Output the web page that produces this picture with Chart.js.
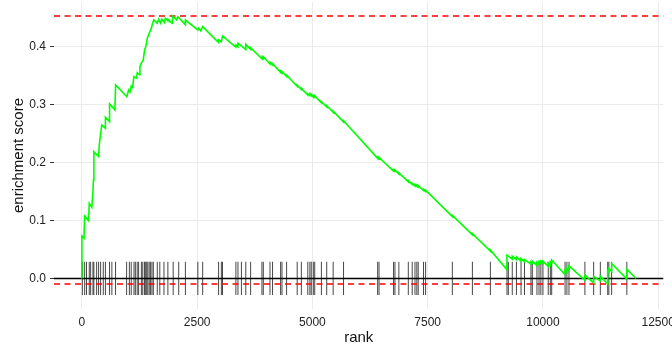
<!DOCTYPE html>
<html>
<head>
<meta charset="utf-8">
<script src="https://cdn.jsdelivr.net/npm/chart.js@4.4.1/dist/chart.umd.min.js"></script>
<style>
  html, body { margin: 0; padding: 0; background: #fff; }
  canvas { display: block; }
</style>
</head>
<body>
<canvas id="gsea" width="672" height="355"></canvas>
<script>
// running enrichment score, vertices (rank, score)
var esRank = [0, 0, 45, 60, 145, 160, 215, 240, 250, 260, 362, 377, 406, 430, 510, 510, 600, 600, 716, 731,
  975, 1013, 1042, 1071, 1100, 1128, 1186, 1201, 1245, 1258, 1288, 1331, 1360, 1388, 1418, 1447, 1505, 1534, 1562,
  1635, 1664, 1707, 1735, 1794, 1809, 1865, 1865, 1960, 1965, 2054, 2082, 2245, 2245, 2515, 2530, 2575, 2620,
  2965, 2965, 3025, 3050, 3340, 3345, 3385, 3385, 3555, 3555,
  3660, 3660, 3905, 3905, 3935, 3935, 4080, 4080, 4135, 4135, 4310, 4310, 4340, 4340, 4440, 4440,
  4670, 4670, 4760, 4760, 4900, 4900, 4945, 4945, 4975, 4975, 5020, 5020, 5050, 5050, 5195, 5195,
  5310, 5310, 5450, 5450, 5675, 5675, 6415, 6415, 6445, 6445, 6760, 6760, 6790, 6790, 6875, 6875,
  7080, 7080, 7165, 7165, 7225, 7225, 7265, 7265, 7295, 7295, 7410, 7410, 7455, 7455,
  8035, 8035, 8470, 8470, 8860, 8860, 9220, 9220, 9335, 9335, 9425, 9425, 9525, 9525, 9600, 9600,
  9740, 9740, 9770, 9770, 9870, 9870, 9915, 9915, 9955, 9955, 10000, 10000, 10115, 10115, 10160, 10160,
  10190, 10190, 10480, 10480, 10520, 10520, 10565, 10565, 10910, 10910, 11100, 11100, 11245, 11245,
  11405, 11405, 11430, 11430, 11490, 11490, 11820, 11820, 12020];
var esScore = [0, 0.0736, 0.0696, 0.108, 0.100, 0.130, 0.123, 0.150, 0.170, 0.219, 0.2105, 0.231, 0.250, 0.265,
  0.2596, 0.2786, 0.271, 0.3015, 0.291, 0.3344,
  0.314, 0.3257, 0.322, 0.3326, 0.330, 0.3487, 0.346, 0.3556, 0.352, 0.366, 0.372, 0.3775, 0.395, 0.4005, 0.415,
  0.4207, 0.432, 0.441, 0.4466,
  0.441, 0.4478, 0.441, 0.448, 0.442, 0.4495, 0.445, 0.448, 0.4405, 0.4535, 0.4466, 0.4523, 0.4385, 0.4465,
  0.4295, 0.4325, 0.428, 0.435,
  0.4074, 0.412, 0.409, 0.419, 0.3995, 0.4035, 0.4005, 0.4064, 0.3955, 0.4045,
  0.396, 0.3985, 0.3795, 0.3825, 0.380, 0.383, 0.3705, 0.3735, 0.369, 0.371, 0.356, 0.358, 0.3555, 0.3575,
  0.349, 0.351,
  0.332, 0.334, 0.3265, 0.3285, 0.317, 0.319, 0.3165, 0.3185, 0.316, 0.318, 0.3135, 0.3155, 0.3135, 0.3155,
  0.3035, 0.3055,
  0.2965, 0.2985, 0.287, 0.289, 0.2705, 0.2725, 0.2075, 0.2095, 0.207, 0.209, 0.1855, 0.1875, 0.1855, 0.1875,
  0.1805, 0.1825,
  0.167, 0.169, 0.1625, 0.1645, 0.160, 0.162, 0.159, 0.161, 0.1585, 0.1605, 0.152, 0.154, 0.1505, 0.1525,
  0.107, 0.109, 0.0755, 0.0775, 0.0475, 0.0495, 0.015, 0.0405, 0.0335, 0.0385, 0.0325, 0.0375, 0.030, 0.0345,
  0.029, 0.033,
  0.025, 0.029, 0.0268, 0.030, 0.0222, 0.0282, 0.0247, 0.029, 0.0258, 0.030, 0.0265, 0.030, 0.021, 0.0265,
  0.023, 0.029,
  0.027, 0.032, 0.0065, 0.014, 0.011, 0.017, 0.0135, 0.022, -0.003, 0.006, -0.0075, 0.0035, -0.004, 0.0045,
  -0.0093, 0.014, 0.012, 0.017, 0.0125, 0.026, -0.001, 0.016, 0];

// positions of the gene set members in the ranked list
var hitRanks = [10, 60, 100, 160, 190, 240, 260, 320, 362, 406, 464, 510, 600, 650, 730, 970, 1030, 1070,
  1130, 1160, 1200, 1230, 1290, 1320, 1360, 1375, 1405, 1430, 1460, 1490, 1520, 1550, 1635, 1690, 1780,
  1865, 1980, 2100, 2245, 2515, 2620, 2965, 3025, 3050, 3340, 3385, 3460, 3555, 3660, 3905, 3935, 4080,
  4135, 4310, 4340, 4440, 4670, 4760, 4900, 4945, 4975, 5020, 5050, 5195, 5310, 5450, 5675, 6415, 6445,
  6760, 6790, 6875, 7080, 7165, 7225, 7265, 7295, 7410, 7455, 8035, 8470, 8860, 9220, 9250, 9335, 9425,
  9525, 9600, 9740, 9770, 9870, 9915, 9955, 10000, 10115, 10160, 10190, 10480, 10520, 10565, 10910,
  11100, 11245, 11405, 11430, 11490, 11820];

var xTicks = [0, 2500, 5000, 7500, 10000, 12500];
var yTicks = [0.0, 0.1, 0.2, 0.3, 0.4];

var xMin = -605, xMax = 12615;
var yMin = -0.0526, yMax = 0.4776;
var hitLow = -0.0285, hitHigh = 0.029;

var esMax = Math.max.apply(null, esScore);
var esMin = Math.min.apply(null, esScore);

var esPoints = esRank.map(function (r, i) { return { x: r, y: esScore[i] }; });
var hitPoints = [];
hitRanks.forEach(function (r) {
  hitPoints.push({ x: r, y: hitLow }, { x: r, y: hitHigh }, { x: r, y: null });
});
function hline(v) { return [{ x: xMin, y: v }, { x: xMax, y: v }]; }

var fontFam = '"Liberation Sans", Arial, Helvetica, sans-serif';

var ctx = document.getElementById('gsea').getContext('2d');
var chart = new Chart(ctx, {
  type: 'line',
  data: {
    datasets: [
      { data: esPoints, borderColor: '#00ff00', borderWidth: 1.6, pointRadius: 0, tension: 0, order: 0 },
      { data: hline(esMax), borderColor: '#ff0000', borderWidth: 1.5, borderDash: [6, 4.5], pointRadius: 0, order: 1 },
      { data: hline(esMin), borderColor: '#ff0000', borderWidth: 1.5, borderDash: [6, 4.5], pointRadius: 0, order: 1 },
      { data: hline(0), borderColor: '#000000', borderWidth: 1.5, pointRadius: 0, order: 2 },
      { data: hitPoints, borderColor: 'rgba(0,0,0,0.72)', borderWidth: 1, pointRadius: 0, spanGaps: false, order: 3 }
    ]
  },
  options: {
    responsive: false,
    animation: false,
    events: [],
    layout: { padding: { top: 2, right: 8.5, bottom: 0, left: 0 } },
    plugins: { legend: { display: false }, tooltip: { enabled: false } },
    scales: {
      x: {
        type: 'linear',
        min: xMin,
        max: xMax,
        border: { display: false },
        grid: { color: '#ebebeb', lineWidth: 1, tickLength: 4, tickColor: 'rgba(0,0,0,0)' },
        ticks: {
          padding: 2,
          color: '#222',
          font: { family: fontFam, size: 12 },
          maxRotation: 0,
          callback: function (v) { return String(v); }
        },
        afterBuildTicks: function (s) { s.ticks = xTicks.map(function (v) { return { value: v }; }); },
        afterFit: function (s) { s.height = 46; s.paddingLeft = 0; s.paddingRight = 0; },
        title: {
          display: true,
          text: 'rank',
          color: '#111',
          font: { family: fontFam, size: 15 },
          padding: { top: 0, bottom: 8 }
        }
      },
      y: {
        type: 'linear',
        min: yMin,
        max: yMax,
        border: { display: false },
        grid: { color: '#ebebeb', lineWidth: 1, tickLength: 4, tickColor: '#333', tickWidth: 1 },
        ticks: {
          padding: 4,
          color: '#222',
          font: { family: fontFam, size: 12 },
          callback: function (v) { return v.toFixed(1); }
        },
        afterBuildTicks: function (s) { s.ticks = yTicks.map(function (v) { return { value: v }; }); },
        afterFit: function (s) { s.width = 54; s.paddingTop = 0; s.paddingBottom = 0; },
        title: {
          display: true,
          text: 'enrichment score',
          color: '#111',
          font: { family: fontFam, size: 15 },
          padding: { top: 10, bottom: 0 }
        }
      }
    }
  }
});
</script>
</body>
</html>
